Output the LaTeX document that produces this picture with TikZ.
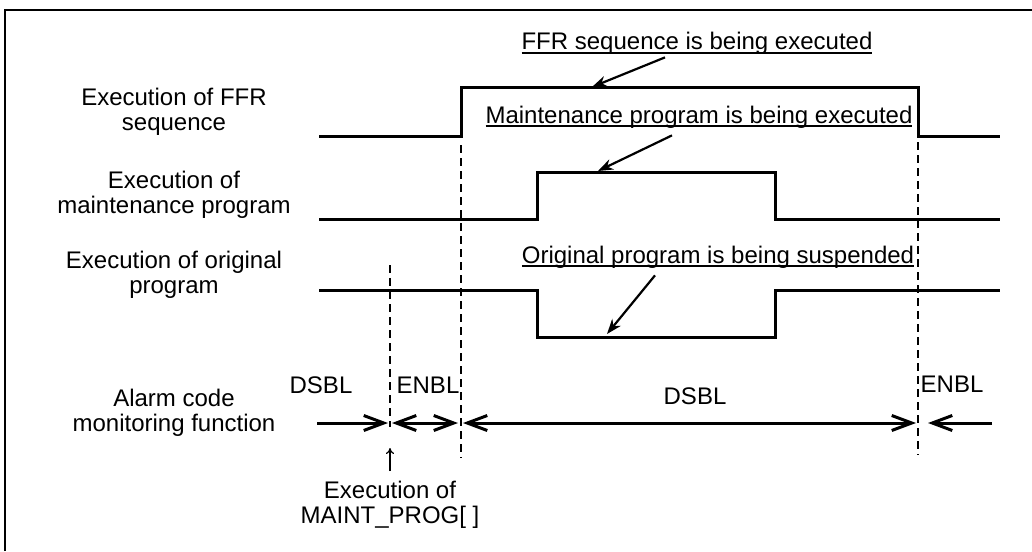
\documentclass[tikz,border=0pt]{standalone}
\usepackage{fontspec}
\setmainfont{Liberation Sans}
\usetikzlibrary{arrows.meta}
% underline sitting just below the baseline
\newcommand\ulined[1]{\setbox0\hbox{#1}\rlap{\rule[-1.8pt]{\wd0}{0.6pt}}\box0}

\begin{document}
\begin{tikzpicture}[x=0.5pt,y=-0.5pt,
  lbl/.style={align=center, inner sep=0pt, anchor=base,
              font=\fontsize{12pt}{12.5pt}\selectfont},
  sig/.style={line width=1.5pt, line join=miter, line cap=rect},
  vdash/.style={line width=1.4pt, dash pattern=on 4pt off 2.5pt},
  dimline/.style={line width=1.5pt},
  barb/.tip={Straight Barb[length=10pt,width=7.5pt]},
  callout/.style={line width=1.1pt, -{Stealth[length=7.5pt,width=5.5pt]}},
]
\useasboundingbox (0,0) rectangle (1032,551);

% frame
\draw[line width=1pt] (5,551) -- (5,10) -- (1032,10);

% row labels (anchored on the baseline of their last line)
\node[lbl] (lffr)  at (174,130) {Execution of FFR\\sequence};
\node[lbl] (lmnt)  at (174,213) {Execution of\\maintenance program};
\node[lbl] (lorg)  at (174,293) {Execution of original\\program};
\node[lbl] (lalm)  at (174,431) {Alarm code\\monitoring function};

% timing signals
\draw[sig] (320,136) -- (461,136) -- (461,88) -- (918,88) -- (918,136) -- (998,136);
\draw[sig] (320,219) -- (537,219) -- (537,172) -- (775,172) -- (775,219) -- (998,219);
\draw[sig] (320,290) -- (537,290) -- (537,337) -- (775,337) -- (775,290) -- (998,290);

% event markers
\coordinate (m1top) at (390,265);  \coordinate (m1bot) at (390,427);
\coordinate (m2top) at (461,145);  \coordinate (m2bot) at (461,458);
\coordinate (m3top) at (918,90);   \coordinate (m3bot) at (918,455);
\draw[vdash] (m1top) -- (m1bot);
\draw[vdash] (m2top) -- (m2bot);
\draw[vdash] (m3top) -- (m3bot);

% alarm code monitoring intervals
\coordinate (a0) at (317,423);
\coordinate (a1l) at (388,423); \coordinate (a1r) at (392,423);
\coordinate (a2l) at (458,423); \coordinate (a2r) at (463,423);
\coordinate (a3l) at (916,423); \coordinate (a3r) at (928,423);
\coordinate (a4) at (992,423);
\draw[dimline, -barb] (a0) -- (a1l);
\draw[dimline, barb-barb] (a1r) -- (a2l);
\draw[dimline, barb-barb] (a2r) -- (a3l);
\draw[dimline, -barb] (a4) -- (a3r);

\node[lbl] (dsbl1) at (321,393) {DSBL};
\node[lbl] (enbl1) at (428,393) {ENBL};
\node[lbl] (dsbl2) at (695,404) {DSBL};
\node[lbl] (enbl2) at (952,392) {ENBL};

% trigger note
\node[lbl] (trig) at (390,523) {Execution of\\MAINT\_PROG[ ]};
\coordinate (trigtip) at (390,448);
\draw[line width=0.6pt, -{To[length=3pt,width=4pt]}] (390,471) -- (trigtip);

% callouts
\node[lbl] (cffr) at (697,50)  {\ulined{FFR sequence is being executed}};
\node[lbl] (cmnt) at (699,123) {\ulined{Maintenance program is being executed}};
\node[lbl] (corg) at (718,263) {\ulined{Original program is being suspended}};
\coordinate (pffr) at (592,87);
\coordinate (pmnt) at (598,171);
\coordinate (porg) at (607,334);
\draw[callout] ([shift={(-32,2)}]cffr.south) -- (pffr);
\draw[callout] ([shift={(-27,7)}]cmnt.south) -- (pmnt);
\draw[callout] ([shift={(-63,7)}]corg.south) -- (porg);
\end{tikzpicture}
\end{document}
